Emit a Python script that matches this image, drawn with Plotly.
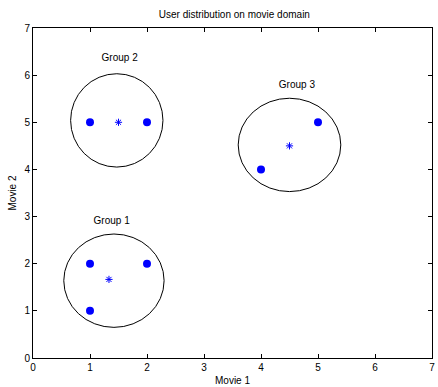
import plotly.graph_objects as go

# Data
user_x = [1, 2, 1, 1, 2, 4, 5]
user_y = [2, 2, 1, 5, 5, 4, 5]
centroid_x = [1.333, 1.5, 4.5]
centroid_y = [1.667, 5.0, 4.5]
circle_cx = [1.42, 1.47, 4.50]
circle_cy = [1.64, 5.04, 4.52]
circle_rx = [0.88, 0.81, 0.90]
circle_ry = [0.99, 0.99, 0.99]
group_labels = ["Group 1", "Group 2", "Group 3"]
label_x = [1.38, 1.52, 4.63]
label_y = [2.90, 6.35, 5.77]
tick_vals = [0, 1, 2, 3, 4, 5, 6, 7]

FONT = "Liberation Sans, Arial, sans-serif"

fig = go.Figure()
fig.add_trace(go.Scatter(
    x=user_x, y=user_y, mode="markers",
    marker=dict(symbol="circle", size=8, color="#0000ff"),
    showlegend=False, hoverinfo="skip"))
fig.add_trace(go.Scatter(
    x=centroid_x, y=centroid_y, mode="markers",
    marker=dict(symbol="asterisk-open", size=6, color="#0000ff",
                line=dict(color="#0000ff", width=1)),
    showlegend=False, hoverinfo="skip"))
fig.add_trace(go.Scatter(
    x=label_x, y=label_y, mode="text", text=group_labels,
    textfont=dict(family=FONT, size=10, color="#000000"),
    showlegend=False, hoverinfo="skip"))

for cx, cy, rx, ry in zip(circle_cx, circle_cy, circle_rx, circle_ry):
    fig.add_shape(type="circle", xref="x", yref="y",
                  x0=cx - rx, x1=cx + rx, y0=cy - ry, y1=cy + ry,
                  line=dict(color="#000000", width=1), layer="below")

axis_common = dict(
    range=[0, 7], tickvals=tick_vals, ticktext=[str(v) for v in tick_vals],
    showgrid=False, zeroline=False, showline=True, mirror="ticks",
    linecolor="#000000", linewidth=1, ticks="inside", ticklen=4,
    tickcolor="#000000", tickwidth=1,
    tickfont=dict(family=FONT, size=10, color="#000000"),
)

fig.update_layout(
    width=438, height=387,
    margin=dict(l=33, r=3, t=28, b=24),
    paper_bgcolor="#ffffff", plot_bgcolor="#ffffff",
    title=dict(text="User distribution on movie domain", x=0.535, xanchor="center",
               y=0.962, yanchor="middle",
               font=dict(family=FONT, size=10, color="#000000")),
    xaxis=dict(**axis_common,
               title=dict(text="Movie 1", standoff=4,
                          font=dict(family=FONT, size=10, color="#000000"))),
    yaxis=dict(**axis_common,
               title=dict(text="Movie 2", standoff=5,
                          font=dict(family=FONT, size=10, color="#000000"))),
)

fig.write_html("out.html")
